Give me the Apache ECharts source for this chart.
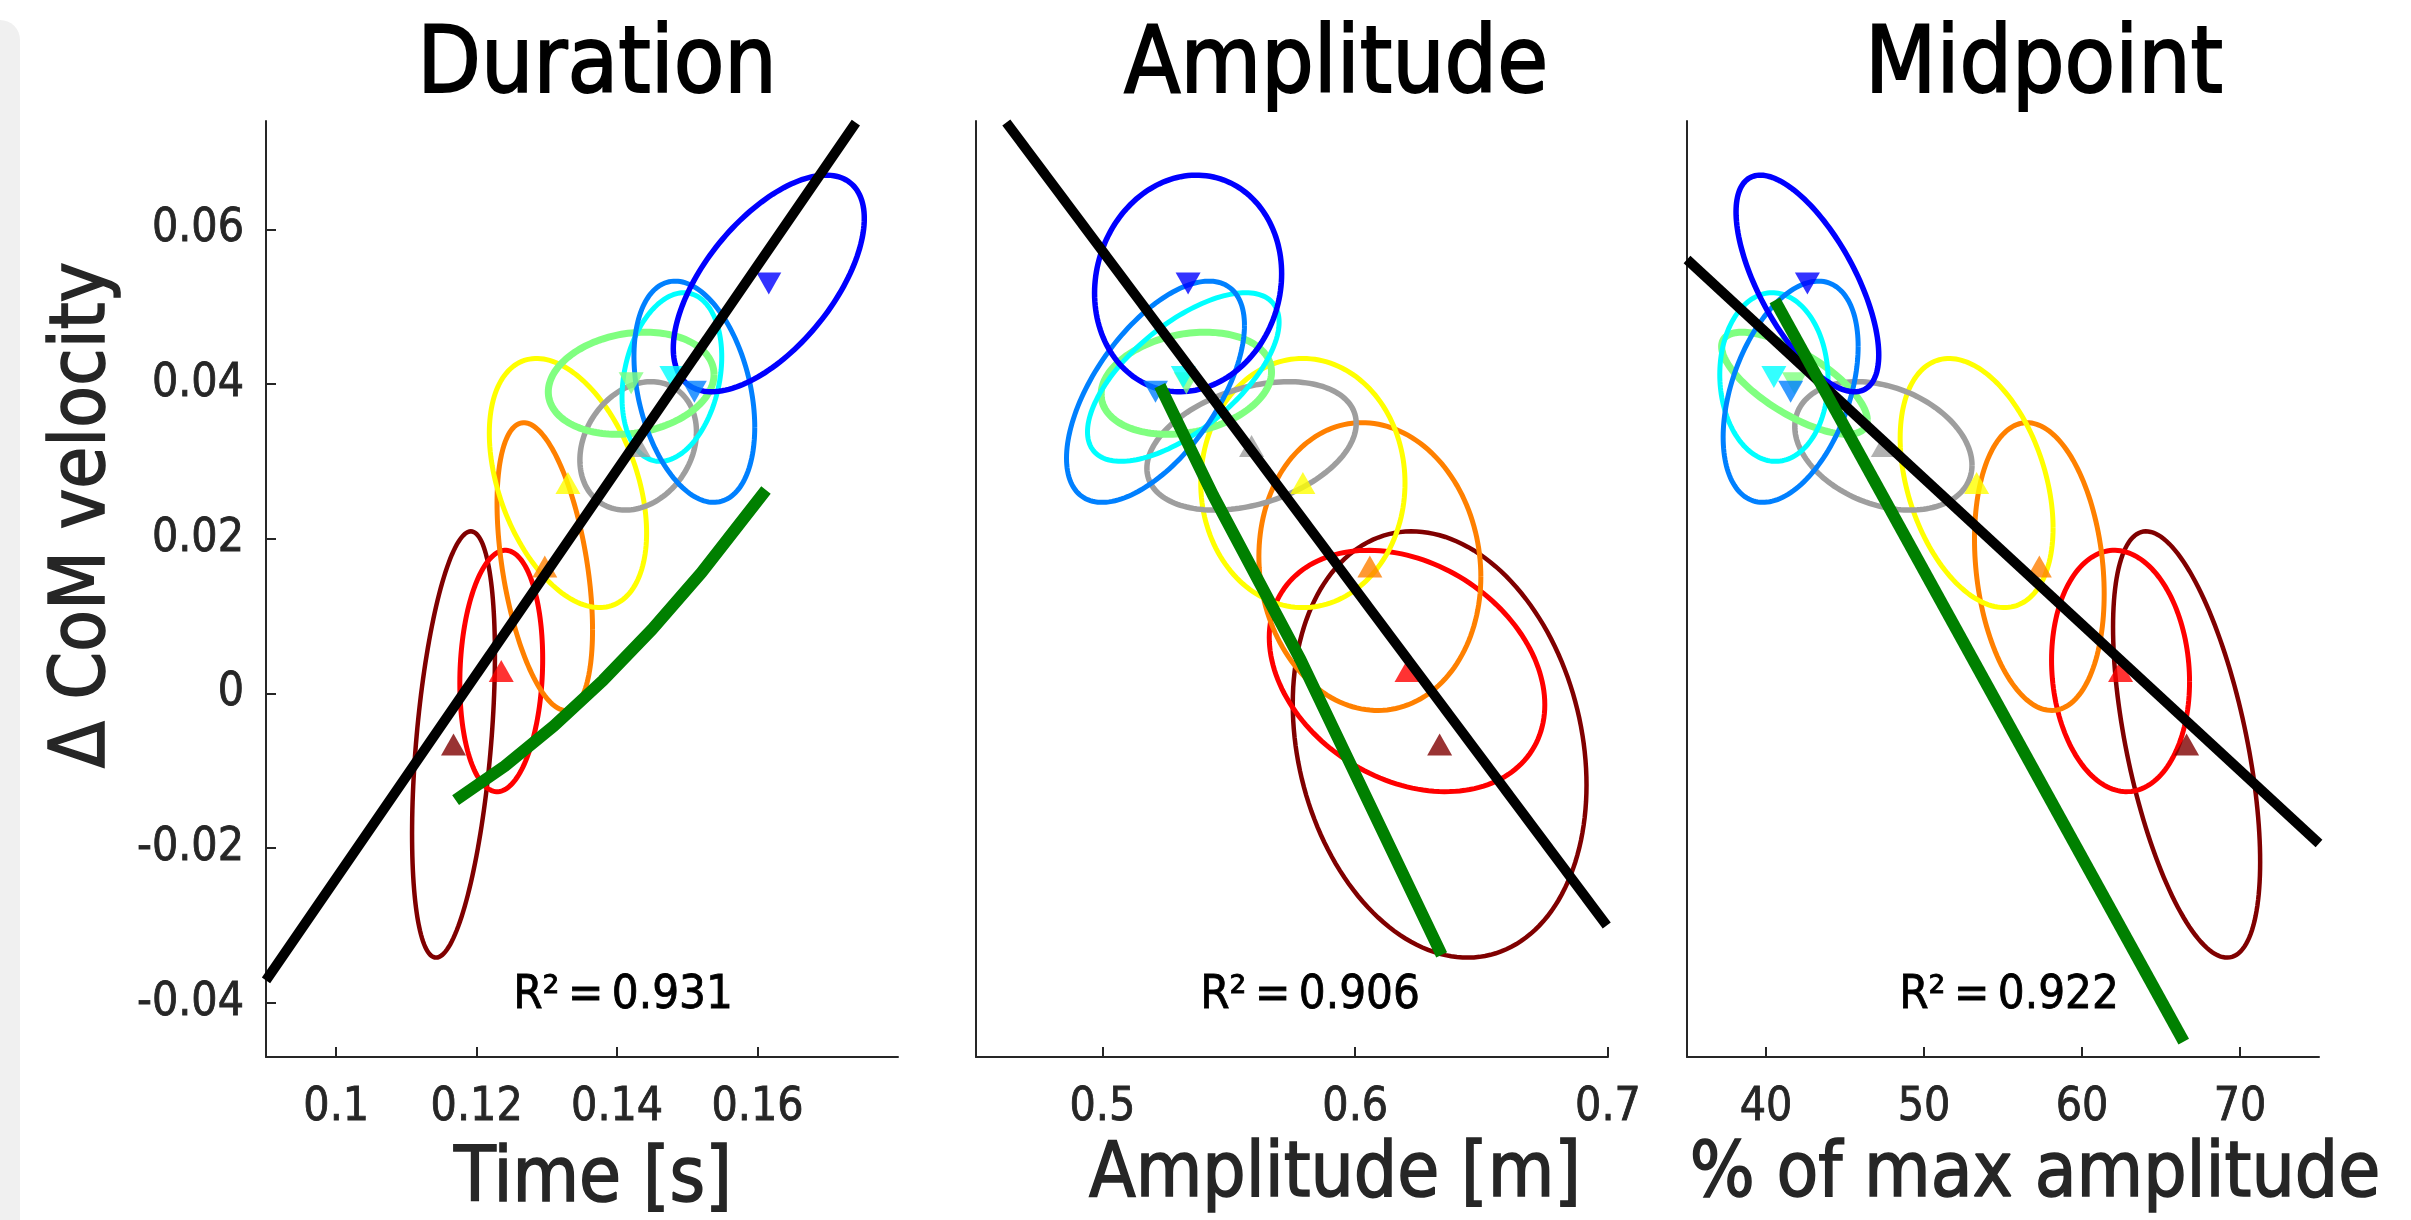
<!DOCTYPE html>
<html>
<head>
<meta charset="utf-8">
<script src="https://cdn.jsdelivr.net/npm/echarts@6/dist/echarts.min.js"></script>
<style>
  html, body { margin: 0; background: #fff; }
  #chart { width: 2411px; height: 1220px; }
</style>
</head>
<body>
<div id="chart"></div>
<script>
// groups in drawing order
const groups = ['darkred', 'red', 'orange', 'yellow', 'gray', 'lightgreen', 'cyan', 'azure', 'blue'];
const markerUp = [true, true, true, true, true, false, false, false, false];

// delta CoM velocity: mean and sd per group (shared by all three panels)
const velMean = [-0.0066, 0.0029, 0.0164, 0.0272, 0.0320, 0.0401, 0.0409, 0.0390, 0.0530];
const velSd = [0.02755, 0.0156, 0.0186, 0.0161, 0.0083, 0.0066, 0.0109, 0.0143, 0.0140];

// Duration panel
const durMean = [0.1167, 0.1235, 0.1297, 0.1330, 0.1430, 0.1420, 0.1478, 0.1510, 0.1616];
const durSd = [0.0059, 0.0059, 0.0068, 0.0112, 0.0083, 0.0118, 0.0071, 0.0086, 0.0136];
const durCorr = [0.42, 0.1, -0.44, -0.4, 0.22, 0.17, 0.24, -0.32, 0.6];
const durFitX = [0.09, 0.174];
const durFitY = [-0.0371, 0.0738];
const durGreenX = [0.117, 0.124, 0.131, 0.138, 0.145, 0.152, 0.1612];
const durGreenY = [-0.0138, -0.0094, -0.0042, 0.0017, 0.0083, 0.0156, 0.0263];

// Amplitude panel
const ampMean = [0.6334, 0.6205, 0.6058, 0.5793, 0.5590, 0.5332, 0.5320, 0.5210, 0.5339];
const ampSd = [0.0581, 0.0545, 0.0439, 0.0404, 0.0414, 0.0337, 0.0379, 0.0352, 0.0370];
const ampCorr = [-0.19, -0.28, -0.07, 0, 0.35, 0.22, 0.65, 0.6, 0.09];
const ampFitX = [0.462, 0.6995];
const ampFitY = [0.0738, -0.0300];
const ampGreenX = [0.5227, 0.5438, 0.5783, 0.6342];
const ampGreenY = [0.0398, 0.0256, 0.0044, -0.0338];

// Midpoint panel
const midMean = [66.62, 62.44, 57.3, 53.33, 47.43, 41.8, 40.5, 41.56, 42.62];
const midSd = [4.655, 4.367, 4.104, 4.839, 5.608, 4.61, 3.426, 4.272, 4.516];
const midCorr = [-0.55, -0.09, -0.19, -0.36, -0.3, -0.72, -0.03, 0.41, -0.66];
const midFitX = [35, 75];
const midFitY = [0.0561, -0.0194];
const midGreenX = [40.56, 66.44];
const midGreenY = [0.0508, -0.0450];

const yTicks = [-0.04, -0.02, 0, 0.02, 0.04, 0.06];
const durTicks = [0.1, 0.12, 0.14, 0.16];
const ampTicks = [0.5, 0.6, 0.7];
const midTicks = [40, 50, 60, 70];
const r2Labels = ['R\u00b2\u2009=\u20090.931', 'R\u00b2\u2009=\u20090.906', 'R\u00b2\u2009=\u20090.922'];

// styles
const groupColor = {
  darkred: '#800000', red: '#ff0000', orange: '#ff8000', yellow: '#ffff00',
  gray: '#9e9e9e', lightgreen: '#80ff80', cyan: '#00ffff', azure: '#0080ff', blue: '#0000ff'
};
const groupWidth = {
  darkred: 4.5, red: 5, orange: 5, yellow: 5,
  gray: 5.5, lightgreen: 7, cyan: 5, azure: 5, blue: 5.5
};
const font = '"DejaVu Sans Condensed", "DejaVu Sans", sans-serif';
const axisColor = '#262626';

const chart = echarts.init(document.getElementById('chart'));

function zip(xs, ys) {
  return xs.map((x, i) => [x, ys[i]]);
}

// covariance style ellipse drawn through the axis scales
function ellipseSeries(gridIdx, mean, sd, corr) {
  return {
    type: 'custom',
    xAxisIndex: gridIdx,
    yAxisIndex: gridIdx,
    z: 1,
    silent: true,
    data: groups.map((g, i) => [mean[i], velMean[i], i]),
    renderItem: function (params, api) {
      const i = api.value(2);
      const r = corr[i];
      const k = Math.sqrt(1 - r * r);
      const pts = [];
      for (let j = 0; j <= 160; j++) {
        const t = j / 160 * Math.PI * 2;
        const x = mean[i] + sd[i] * Math.cos(t);
        const y = velMean[i] + velSd[i] * (r * Math.cos(t) + k * Math.sin(t));
        pts.push(api.coord([x, y]));
      }
      const g = groups[i];
      return {
        type: 'polyline',
        shape: { points: pts },
        style: { stroke: groupColor[g], lineWidth: groupWidth[g], fill: null }
      };
    }
  };
}

function markerSeries(gridIdx, mean) {
  return {
    type: 'scatter',
    xAxisIndex: gridIdx,
    yAxisIndex: gridIdx,
    z: 2,
    silent: true,
    symbol: 'triangle',
    symbolSize: [25, 22],
    data: groups.map((g, i) => ({
      value: [mean[i], velMean[i]],
      symbolRotate: markerUp[i] ? 0 : 180,
      itemStyle: { color: groupColor[g] }
    }))
  };
}

function lineSeries(gridIdx, xs, ys, color, width, z) {
  return {
    type: 'line',
    xAxisIndex: gridIdx,
    yAxisIndex: gridIdx,
    z: z,
    silent: true,
    showSymbol: false,
    data: zip(xs, ys),
    lineStyle: { color: color, width: width, cap: 'butt', join: 'round' }
  };
}

function xAxisCfg(gridIdx, min, max, ticks) {
  return {
    type: 'value', gridIndex: gridIdx, min: min, max: max,
    axisLine: { show: true, onZero: false, lineStyle: { color: axisColor, width: 2 } },
    axisTick: { show: true, inside: true, length: 10, customValues: ticks, lineStyle: { color: axisColor, width: 2 } },
    axisLabel: {
      customValues: ticks, margin: 28, color: axisColor, fontSize: 46, fontFamily: font,
      textBorderColor: axisColor, textBorderWidth: 0.8, formatter: v => String(v)
    },
    splitLine: { show: false }
  };
}

function yAxisCfg(gridIdx, withLabels) {
  return {
    type: 'value', gridIndex: gridIdx, min: -0.047, max: 0.074,
    axisLine: { show: true, onZero: false, lineStyle: { color: axisColor, width: 2 } },
    axisTick: { show: withLabels, inside: true, length: 10, customValues: yTicks, lineStyle: { color: axisColor, width: 2 } },
    axisLabel: {
      show: withLabels, customValues: yTicks, margin: 22, color: axisColor, fontSize: 46, fontFamily: font,
      textBorderColor: axisColor, textBorderWidth: 0.8, formatter: v => String(v)
    },
    splitLine: { show: false }
  };
}

function label(text, x, y, size, color, weight, rotation) {
  return {
    type: 'text',
    x: x, y: y,
    rotation: rotation || 0,
    silent: true,
    z: 100,
    style: {
      text: text, x: 0, y: 0,
      fontSize: size, fontFamily: font, fill: color,
      stroke: color, lineWidth: weight,
      align: 'center', verticalAlign: 'middle',
      textAlign: 'center', textVerticalAlign: 'middle'
    }
  };
}

const option = {
  backgroundColor: '#ffffff',
  animation: false,
  grid: [
    { left: 266, top: 121, width: 632, height: 936 },
    { left: 976, top: 121, width: 632, height: 936 },
    { left: 1687, top: 121, width: 632, height: 936 }
  ],
  xAxis: [
    xAxisCfg(0, 0.09, 0.18, durTicks),
    xAxisCfg(1, 0.45, 0.7, ampTicks),
    xAxisCfg(2, 35, 75, midTicks)
  ],
  yAxis: [yAxisCfg(0, true), yAxisCfg(1, false), yAxisCfg(2, false)],
  graphic: [
    { type: 'rect', silent: true, z: 0, shape: { x: -20, y: 20, width: 40, height: 1300, r: 20 }, style: { fill: '#f0f0f0' } },
    label('Duration', 597, 68, 92, '#000', 1.8),
    label('Amplitude', 1336, 68, 92, '#000', 1.8),
    label('Midpoint', 2044, 68, 92, '#000', 1.8),
    label('Time [s]', 593, 1181, 76, axisColor, 1.5),
    label('Amplitude [m]', 1335, 1176, 76, axisColor, 1.5),
    label('% of max amplitude', 2035, 1176, 76, axisColor, 1.5),
    label('\u0394 CoM velocity', 84, 515, 76, axisColor, 1.5, Math.PI / 2),
    label(r2Labels[0], 623, 996, 47, '#000', 0.8),
    label(r2Labels[1], 1310, 996, 47, '#000', 0.8),
    label(r2Labels[2], 2009, 996, 47, '#000', 0.8)
  ],
  series: [
    ellipseSeries(0, durMean, durSd, durCorr),
    markerSeries(0, durMean),
    lineSeries(0, durFitX, durFitY, '#000000', 10, 3),
    lineSeries(0, durGreenX, durGreenY, '#008000', 12, 4),
    ellipseSeries(1, ampMean, ampSd, ampCorr),
    markerSeries(1, ampMean),
    lineSeries(1, ampFitX, ampFitY, '#000000', 10, 3),
    lineSeries(1, ampGreenX, ampGreenY, '#008000', 12, 4),
    ellipseSeries(2, midMean, midSd, midCorr),
    markerSeries(2, midMean),
    lineSeries(2, midFitX, midFitY, '#000000', 10, 3),
    lineSeries(2, midGreenX, midGreenY, '#008000', 12, 4)
  ]
};

chart.setOption(option);
</script>
</body>
</html>
